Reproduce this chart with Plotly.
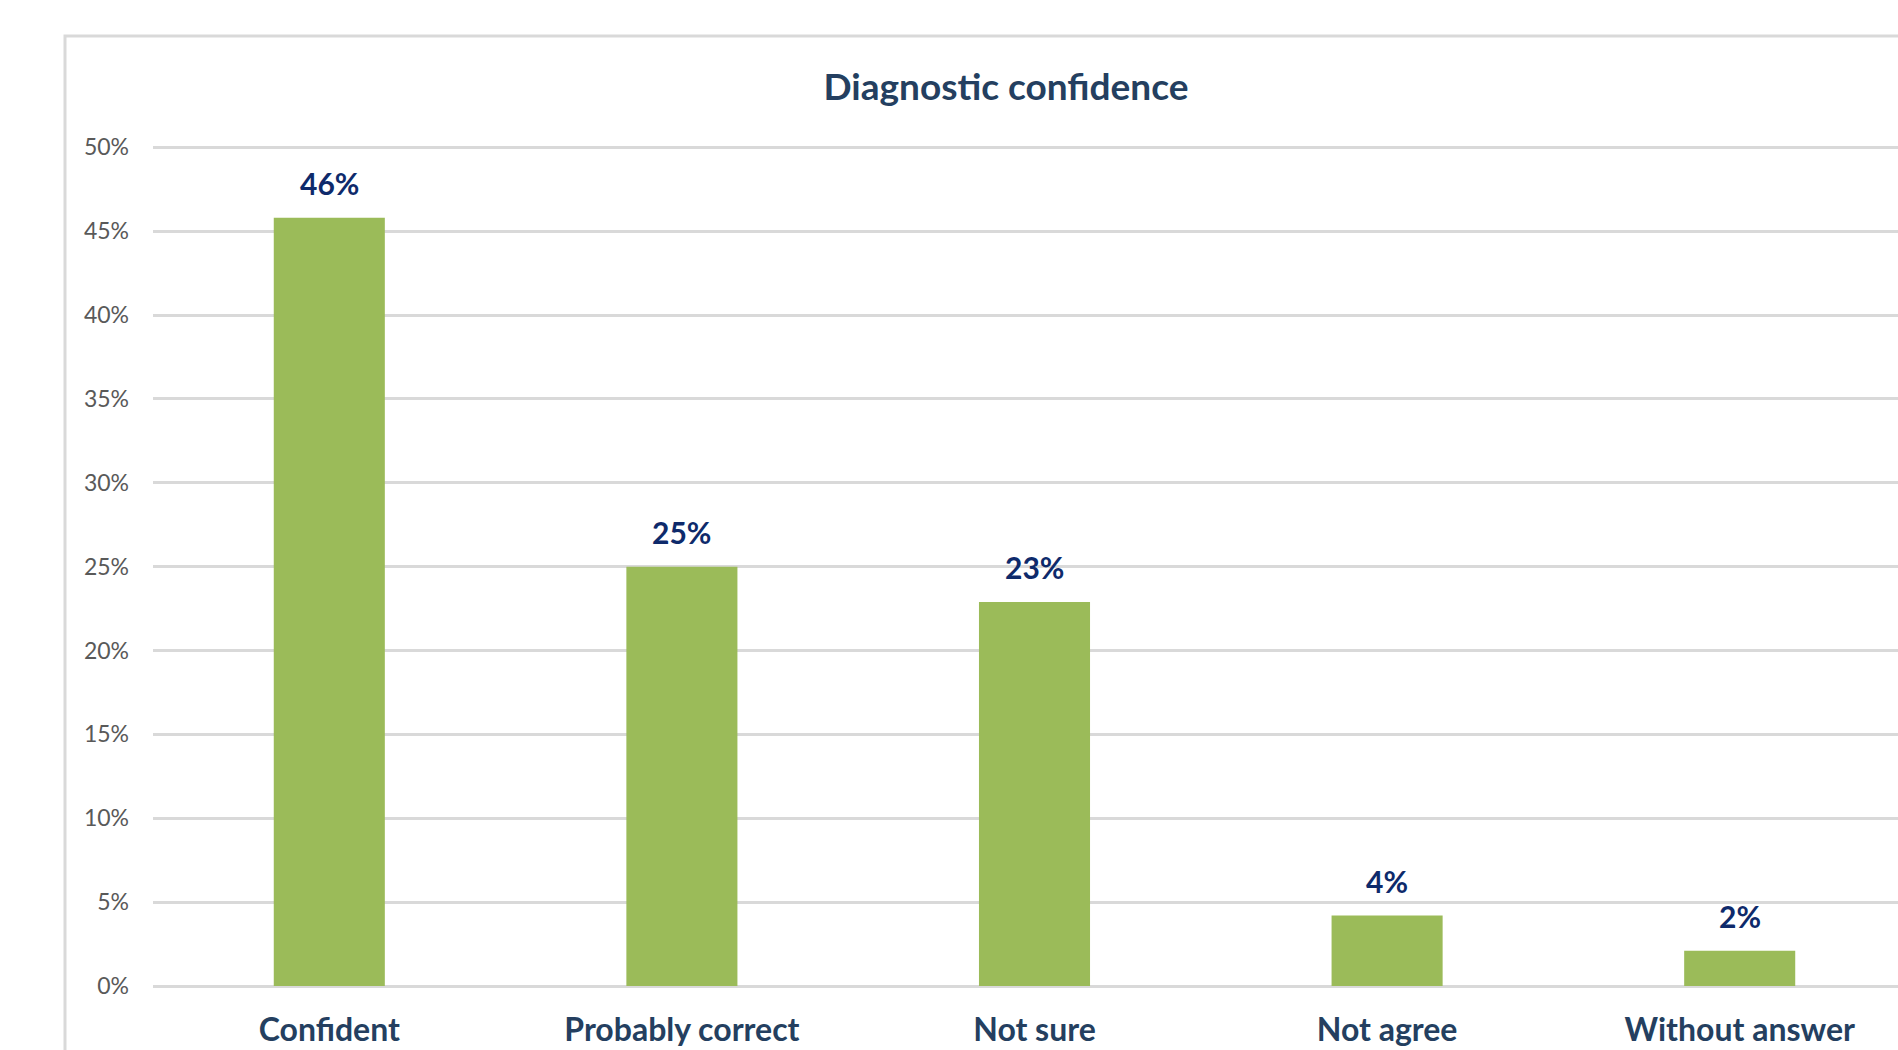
import plotly.graph_objects as go

categories = ["Confident", "Probably correct", "Not sure", "Not agree", "Without answer"]
values = [0.458, 0.25, 0.229, 0.042, 0.021]
value_labels = ["46%", "25%", "23%", "4%", "2%"]
y_ticks = [0, 0.05, 0.10, 0.15, 0.20, 0.25, 0.30, 0.35, 0.40, 0.45, 0.50]
y_tick_labels = ["0%", "5%", "10%", "15%", "20%", "25%", "30%", "35%", "40%", "45%", "50%"]
title_text = "Diagnostic confidence"

W, H = 1898, 1050
ML, MR, MT, MB = 153, 0, 144, 64
FONT = "Lato, 'Open Sans', sans-serif"

fig = go.Figure()
fig.add_trace(go.Bar(
    x=categories, y=values,
    marker=dict(color="#9BBB59", line=dict(width=0)),
    hoverinfo="skip",
))

for c, v, t in zip(categories, values, value_labels):
    fig.add_annotation(
        x=c, y=v, text=f"<b>{t}</b>", showarrow=False,
        yanchor="middle", yshift=34.5,
        font=dict(family=FONT, size=30, color="#0E2A6B"),
    )

pw = W - ML - MR
ph = H - MT - MB
# chart border (extends beyond visible window on right/bottom)
fig.add_shape(
    type="rect", xref="paper", yref="paper",
    x0=(65 - ML) / pw, x1=1.1,
    y0=-0.2, y1=(H - MB - 36) / ph,
    line=dict(color="#D9D9D9", width=3), fillcolor="rgba(0,0,0,0)",
    layer="below",
)

fig.update_layout(
    width=W, height=H,
    margin=dict(l=ML, r=MR, t=MT, b=MB, pad=0, autoexpand=False),
    paper_bgcolor="white", plot_bgcolor="white",
    showlegend=False,
    bargap=0.685,
    title=dict(
        text=f"<b>{title_text}</b>", x=1006 / W, xref="container", xanchor="center",
        y=1 - 87 / H, yref="container", yanchor="middle",
        font=dict(family=FONT, size=37, color="#243F60"),
    ),
    xaxis=dict(
        range=[-0.5, -0.5 + pw / 352.6], automargin=False,
        showgrid=False, zeroline=False, showline=False,
        ticks="", tickfont=dict(family=FONT, size=32, color="#243F60"),
        tickvals=categories, ticktext=[f"<b>{c}</b>" for c in categories],
        ticklabelstandoff=22,
    ),
    yaxis=dict(
        range=[0, 0.502], tickvals=y_ticks, ticktext=y_tick_labels, automargin=False,
        showgrid=True, gridcolor="#D9D9D9", gridwidth=3,
        zeroline=True, zerolinecolor="#D9D9D9", zerolinewidth=3,
        showline=False, ticks="",
        tickfont=dict(family=FONT, size=23, color="#595959"),
        ticklabelstandoff=23,
    ),
)

fig.write_html("out.html")
